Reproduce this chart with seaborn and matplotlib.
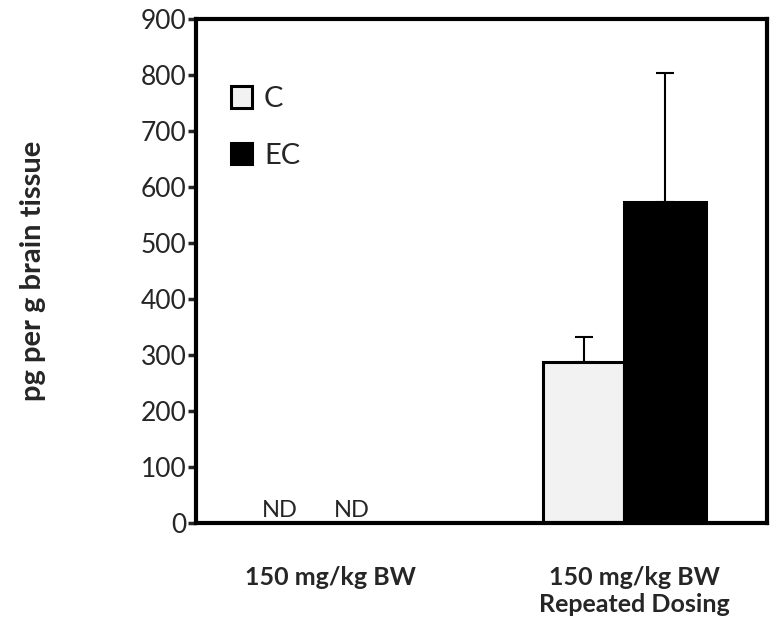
import pandas as pd
import numpy as np
import matplotlib.pyplot as plt
import seaborn as sns
from matplotlib.patches import Patch
from matplotlib.transforms import ScaledTranslation

# values
groups = ['150 mg/kg BW', '150 mg/kg BW\nRepeated Dosing']
treatments = ['C', 'EC']
means = {'C': [0, 288], 'EC': [0, 574]}
errs = {'C': [0, 45], 'EC': [0, 229]}
nd_labels = ['ND', 'ND']

rows = []
for t in treatments:
    for g, m, e in zip(groups, means[t], errs[t]):
        rows.append({'group': g, 'treatment': t, 'value': m, 'err': e})
df = pd.DataFrame(rows)

sns.set_style('white')
plt.rcParams['font.family'] = ['Lato', 'DejaVu Sans']

fig = plt.figure(figsize=(7.79, 6.28), dpi=100)
ax = fig.add_axes([0.2516, 0.1672, 0.7330, 0.8025])

palette = {'C': '#f2f2f2', 'EC': '#000000'}
sns.barplot(data=df, x='group', y='value', hue='treatment', order=groups,
            hue_order=treatments, palette=palette, width=0.57, errorbar=None,
            edgecolor='black', linewidth=2.2, saturation=1, ax=ax, legend=False)

# error bars (upper only), placed on the bar centres
for cont, t in zip(ax.containers, treatments):
    sub = df[df.treatment == t].set_index('group').loc[groups]
    for bar, (m, e) in zip(cont, zip(sub.value, sub.err)):
        if m > 0:
            xc = bar.get_x() + bar.get_width() / 2
            ax.errorbar(xc, m, yerr=[[0], [e]], fmt='none', ecolor='black',
                        elinewidth=1.5, capsize=6.5, capthick=1.5, zorder=1)

# ND labels for the first group (sit a little left of the bar slots)
nd_shift = [-0.065, -0.095]
for cont, lab, dx in zip(ax.containers, nd_labels, nd_shift):
    bar = cont[0]
    ax.text(bar.get_x() + bar.get_width() / 2 + dx, 3, lab, ha='center',
            va='bottom', fontsize=17)

ax.set_ylim(0, 900)
ax.set_xlim(-0.5, 1.5)
ax.set_yticks(np.arange(0, 901, 100))
ax.tick_params(axis='y', direction='out', length=6, width=2.5, labelsize=19, pad=1, left=True)
ax.tick_params(axis='x', length=0, pad=31)
# excel-ish label placement: first label a bit left, second a bit right
label_dx = [-8, 10]
for lbl, dx in zip(ax.get_xticklabels(), label_dx):
    lbl.set_fontweight('bold')
    lbl.set_fontsize(18)
    lbl.set_linespacing(1.2)
    lbl.set_transform(lbl.get_transform() + ScaledTranslation(dx / 100, 0, fig.dpi_scale_trans))
for s in ax.spines.values():
    s.set_visible(True)
    s.set_linewidth(3)
    s.set_color('black')

ax.set_xlabel('')
ax.set_ylabel('pg per g brain tissue', fontsize=21, fontweight='bold', labelpad=68)

handles = [Patch(facecolor=palette[t], edgecolor='black', linewidth=2.2) for t in treatments]
ax.legend(handles, treatments, loc='upper left', bbox_to_anchor=(0.04, 0.89),
          frameon=False, fontsize=21, handlelength=0.75, handleheight=0.75,
          handletextpad=0.4, labelspacing=1.05, borderaxespad=0)

fig.savefig('out.png', dpi=100)
